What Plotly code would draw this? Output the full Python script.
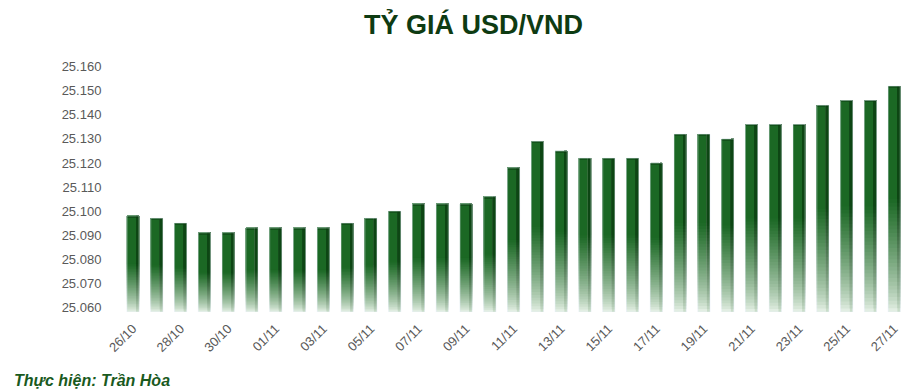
import plotly.graph_objects as go

# ---- data ----
dates = ["26/10", "27/10", "28/10", "29/10", "30/10", "31/10",
         "01/11", "02/11", "03/11", "04/11", "05/11", "06/11", "07/11",
         "08/11", "09/11", "10/11", "11/11", "12/11", "13/11", "14/11",
         "15/11", "16/11", "17/11", "18/11", "19/11", "20/11", "21/11",
         "22/11", "23/11", "24/11", "25/11", "26/11", "27/11"]
rates = [25098, 25097, 25095, 25091, 25091, 25093,
         25093, 25093, 25093, 25095, 25097, 25100, 25103,
         25103, 25103, 25106, 25118, 25129, 25125, 25122,
         25122, 25122, 25120, 25132, 25132, 25130, 25136,
         25136, 25136, 25144, 25146, 25146, 25152]
tick_labels = dates[::2]
y_ticks = list(range(25060, 25161, 10))

title_text = "TỶ GIÁ USD/VND"
credit_text = "Thực hiện: Trần Hòa"

# ---- style ----
BASE = 25058
N_SEG = 30
SOLID_FRAC = 0.5


def mix(c1, c2, t):
    return "rgb(%d,%d,%d)" % tuple(round(a + (b - a) * t) for a, b in zip(c1, c2))


faces = [
    # offset, width, top colour, bottom colour
    (-0.25, 0.38, (27, 104, 36), (236, 245, 236)),
    (0.13, 0.13, (13, 70, 20), (210, 228, 210)),
]

fig = go.Figure()

for off, w, top_c, bot_c in faces:
    # painter's order: lightest (lowest start) first, each reaching the bar top
    for k in range(N_SEG + 1):
        f0 = SOLID_FRAC * k / N_SEG
        t = min(1.0, (k + 0.5) / N_SEG)
        col = mix(bot_c, top_c, t ** 0.75)
        fig.add_bar(
            x=dates,
            base=[BASE + f0 * (r - BASE) for r in rates],
            y=[(1 - f0) * (r - BASE) for r in rates],
            offset=off, width=w,
            marker=dict(color=col, line=dict(width=0)),
            hoverinfo="skip", showlegend=False,
        )
    # small top cap of the 3D look
    fig.add_bar(
        x=dates,
        base=[r - 0.6 for r in rates],
        y=[0.6 for _ in rates],
        offset=off, width=w,
        marker=dict(color=mix(top_c, (10, 60, 16), 0.5), line=dict(width=0)),
        hoverinfo="skip", showlegend=False,
    )

# hover trace with real values
fig.add_bar(x=dates, y=[r - BASE for r in rates], base=BASE, offset=-0.25, width=0.51,
            marker=dict(color="rgba(0,0,0,0)"), customdata=rates,
            hovertemplate="%{x}: %{customdata:,d}<extra></extra>", showlegend=False)

fig.update_layout(
    width=917, height=392,
    margin=dict(l=121, r=11, t=62, b=80),
    barmode="overlay",
    plot_bgcolor="white", paper_bgcolor="white",
    separators=",.",
    font=dict(family="Liberation Sans, Arial, sans-serif", color="#595959"),
    title=dict(
        text="<b>" + title_text + "</b>",
        x=473.5 / 917, xanchor="center", y=1 - 25 / 392, yanchor="middle",
        font=dict(family="Liberation Sans Narrow, Arial Narrow, Liberation Sans, sans-serif",
                  size=27, color="#0e3b12"),
    ),
    xaxis=dict(
        type="category", range=[-0.5, len(dates) - 0.5],
        tickmode="array", tickvals=tick_labels, ticktext=tick_labels,
        tickangle=-45, tickfont=dict(size=13, color="#595959"),
        showgrid=False, showline=False, zeroline=False,
        ticks="outside", ticklen=3, tickcolor="rgba(0,0,0,0)",
    ),
    yaxis=dict(
        range=[BASE, 25162], tickmode="array", tickvals=y_ticks,
        tickformat=",d", tickfont=dict(size=13, color="#595959"),
        showgrid=False, showline=False, zeroline=False,
        ticks="outside", ticklen=16, tickcolor="rgba(0,0,0,0)",
    ),
    annotations=[dict(
        text="<b><i>" + credit_text + "</i></b>",
        xref="paper", yref="paper",
        x=(12 - 121) / 785, xanchor="left",
        y=(311.5 - 380) / 249.5, yanchor="middle",
        showarrow=False,
        font=dict(family="Liberation Sans, Arial, sans-serif", size=16, color="#1a5a1e"),
    )],
)

fig.write_html("out.html")
